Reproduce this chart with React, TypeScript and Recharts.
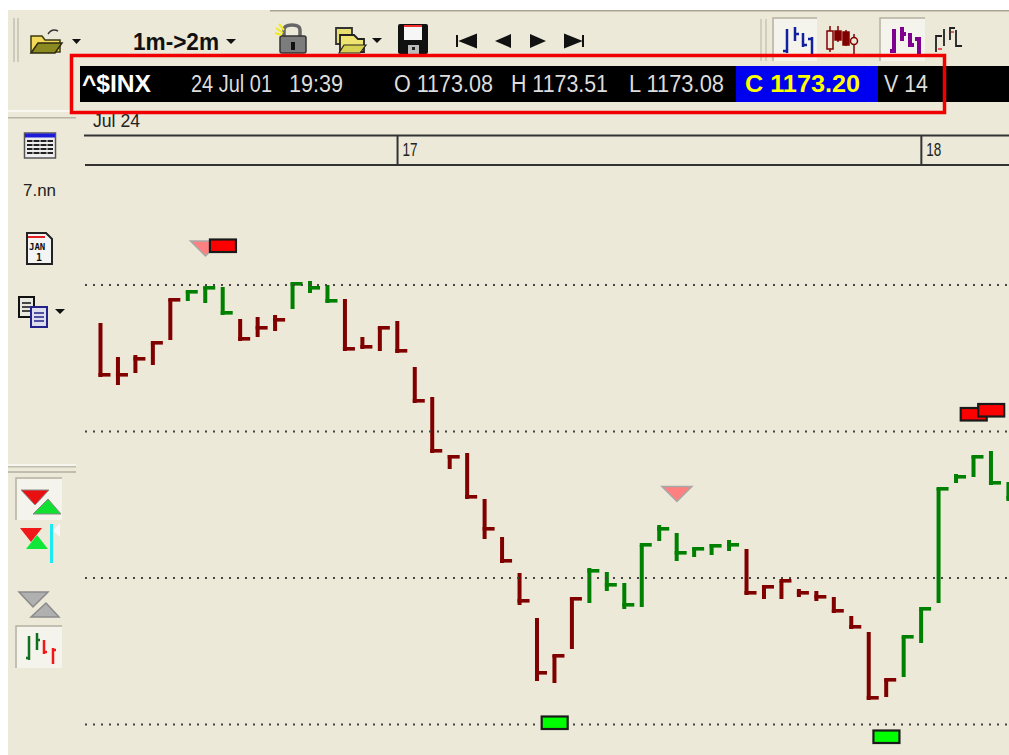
import {
  ComposedChart,
  Bar,
  Scatter,
  XAxis,
  YAxis,
  ReferenceLine,
} from "recharts";

// one entry per 2 minute bar, left to right
const highs = [
  1177.62, 1177.28, 1177.3, 1177.42, 1177.86, 1177.94, 1177.98, 1177.98, 1177.66, 1177.68,
  1177.7, 1178.02, 1178.04, 1178.0, 1177.86, 1177.48, 1177.58, 1177.64, 1177.18, 1176.88,
  1176.3, 1176.32, 1175.86, 1175.48, 1175.12, 1174.67, 1174.3, 1174.87, 1175.17, 1175.13,
  1175.02, 1175.4, 1175.6, 1175.52, 1175.37, 1175.41, 1175.45, 1175.36, 1174.99, 1175.04,
  1174.96, 1174.94, 1174.88, 1174.69, 1174.53, 1174.06, 1174.48, 1174.76, 1175.97, 1176.11,
  1176.29, 1176.34, 1176.03,
];
const lows = [
  1177.08, 1177.0, 1177.12, 1177.2, 1177.45, 1177.84, 1177.82, 1177.7, 1177.44, 1177.48,
  1177.54, 1177.76, 1177.92, 1177.82, 1177.34, 1177.36, 1177.34, 1177.32, 1176.82, 1176.32,
  1176.16, 1175.86, 1175.46, 1175.22, 1174.8, 1174.04, 1174.02, 1174.36, 1174.82, 1174.94,
  1174.76, 1174.78, 1175.44, 1175.24, 1175.28, 1175.3, 1175.34, 1174.9, 1174.86, 1174.86,
  1174.88, 1174.84, 1174.72, 1174.56, 1173.85, 1173.88, 1174.08, 1174.42, 1174.82, 1176.02,
  1176.08, 1176.0, 1175.84,
];
const closes = [
  1177.1, 1177.1, 1177.26, 1177.42, 1177.85, 1177.93, 1177.97, 1177.72, 1177.46, 1177.57,
  1177.65, 1178.01, 1177.97, 1177.84, 1177.36, 1177.38, 1177.57, 1177.34, 1176.84, 1176.34,
  1176.28, 1175.88, 1175.56, 1175.24, 1174.84, 1174.12, 1174.29, 1174.86, 1175.14, 1175.0,
  1174.8, 1175.4, 1175.56, 1175.32, 1175.36, 1175.39, 1175.4, 1174.92, 1174.98, 1175.04,
  1174.92, 1174.88, 1174.74, 1174.58, 1173.87, 1174.05, 1174.48, 1174.76, 1175.96, 1176.08,
  1176.28, 1176.02, 1175.87,
];
const upBars = [5, 6, 7, 11, 12, 13, 28, 29, 30, 31, 32, 33, 34, 35, 36, 46, 47, 48, 49, 50, 51, 52];

const gridPrices = [1178.0, 1176.535, 1175.07, 1173.605];
const dayTicks = [17, 47];
const dayLabels: Record<number, string> = { 17: "17", 47: "18" };

const sellFlags = [
  { bar: 7, price: 1178.395 },
  { bar: 50, price: 1176.71 },
  { bar: 51, price: 1176.75 },
];
const buyFlags = [
  { bar: 26, price: 1173.625 },
  { bar: 45, price: 1173.485 },
];
const sellTriangles = [
  { bar: 6, price: 1178.37 },
  { bar: 33, price: 1175.915 },
];

const chartData = highs.map((high, i) => ({
  bar: i,
  range: [lows[i], high],
  high,
  low: lows[i],
  close: closes[i],
  up: upBars.includes(i),
}));

const BG = "#ECE9D8";
const FONT = '"Liberation Sans", Arial, sans-serif';

function OhlcBar(props: any) {
  const { x, y, width, height, payload } = props;
  const color = payload.up ? "#008000" : "#800000";
  const cx = x + width / 2;
  const perUnit = height / (payload.high - payload.low);
  const closeY = y + (payload.high - payload.close) * perUnit;
  return (
    <g>
      <rect x={cx - 2} y={y} width={4} height={height} fill={color} />
      <rect x={cx - 2} y={closeY - 2} width={12} height={3.6} fill={color} />
    </g>
  );
}

function FlagMark(fill: string) {
  return (props: any) => (
    <rect
      x={props.cx - 13}
      y={props.cy - 6}
      width={26}
      height={12.5}
      fill={fill}
      stroke="#1a1a1a"
      strokeWidth={2.2}
    />
  );
}

function TriangleMark(props: any) {
  const { cx, cy } = props;
  return (
    <path
      d={`M${cx - 15} ${cy - 7}L${cx + 15} ${cy - 7}L${cx} ${cy + 8}Z`}
      fill="#FF8080"
      stroke="#A8A8A8"
      strokeWidth={1.5}
    />
  );
}

function DayTick(props: any) {
  return (
    <text
      x={props.x + 5}
      y={156}
      fontSize={18}
      fontFamily={FONT}
      fill="#222"
      textLength={15}
      lengthAdjust="spacingAndGlyphs"
    >
      {dayLabels[props.payload.value]}
    </text>
  );
}

function MiniBars({ x, y, color, weight }: { x: number; y: number; color: string; weight: number }) {
  return (
    <g transform={`translate(${x} ${y})`} stroke={color} strokeWidth={weight} fill="none">
      <path d="M2 2V26M2 24H-2M10 0V14M10 7H14" />
      <path d="M18 6V20M18 18H22M27 10V30M27 12H23" />
    </g>
  );
}

// toolbars round the plot, these are plain screen furniture and not chart marks
function Chrome() {
  return (
    <svg width={1009} height={755} style={{ position: "absolute", left: 0, top: 0 }}>
      <rect x={8} y={10} width={1001} height={745} fill={BG} />
      <rect x={270} y={10} width={739} height={1.5} fill="#A8A595" />
      <path d="M14 18V62M18 18V62" stroke="#C4C1B0" strokeWidth={1.5} />
      <rect x={8} y={110} width={68} height={2} fill="#F8F7F0" />
      <rect x={8} y={117} width={68} height={1.5} fill="#B8B5A4" />
      <rect x={8} y={464} width={68} height={2} fill="#F6F5EE" />
      <rect x={8} y={466} width={68} height={1.5} fill="#C0BDAC" />
      <rect x={8} y={471} width={68} height={2} fill="#C0BDAC" />

      {/* top toolbar */}
      <path d="M31 36H42L45 40H60V52H31Z" fill="#F3D95A" stroke="#3d3a10" strokeWidth={1.5} />
      <path d="M31 53L38 43H62L55 53Z" fill="#8A8A20" stroke="#2d2a10" strokeWidth={1.5} />
      <path d="M48 34Q52 28 58 31" stroke="#333" strokeWidth={1.5} fill="none" />
      <path d="M72 39H81L76.5 44Z" fill="#111" />
      <text x={133} y={50} fontSize={23} fontWeight={700} fontFamily={FONT} fill="#111" textLength={86} lengthAdjust="spacingAndGlyphs">
        1m-&gt;2m
      </text>
      <path d="M226 39H236L231 44Z" fill="#111" />
      <path d="M284 36V30Q284 25 292 25Q300 25 300 30V36" stroke="#666" strokeWidth={3.5} fill="none" />
      <rect x={280} y={36} width={26} height={17} rx={2} fill="#7C7C7C" stroke="#333" strokeWidth={1.5} />
      <rect x={291} y={42} width={4} height={8} fill="#111" />
      <path d="M276 28L283 33M279 24L284 30M275 33L281 35" stroke="#F0E820" strokeWidth={2} />
      <path d="M336 28H352V44H336Z" fill="#E8DE70" stroke="#333" strokeWidth={1.8} />
      <path d="M340 35H354L358 39H364V52H340Z" fill="#F0E470" stroke="#222" strokeWidth={1.8} />
      <path d="M339 53L344 45H366L360 53Z" fill="#D8D050" stroke="#222" strokeWidth={1.2} />
      <path d="M372 38H382L377 43Z" fill="#111" />
      <rect x={398} y={24} width={30} height={30} rx={2} fill="#111" />
      <rect x={404} y={25} width={18} height={2} fill="#F03030" />
      <rect x={404} y={27} width={18} height={13} fill="#F6F6F6" />
      <rect x={408} y={45} width={11} height={9} fill="#BBB" />
      <rect x={412} y={47} width={3} height={3} fill="#222" />
      <path d="M457 35V47M476 35V47L461 41Z" stroke="#111" strokeWidth={2} fill="#111" />
      <path d="M511 34V48L495 41Z" fill="#111" />
      <path d="M530 34V48L546 41Z" fill="#111" />
      <path d="M565 35V47L580 41Z M583 35V47" stroke="#111" strokeWidth={2} fill="#111" />

      <path d="M761 19V61M766 19V61" stroke="#C8C5B4" strokeWidth={1.5} />
      <rect x={773} y={18} width={44} height={43} fill="#F4F3EC" />
      <path d="M773 61V18H817" stroke="#B4B1A0" strokeWidth={1.5} fill="none" />
      <MiniBars x={785} y={27} color="#1020A0" weight={2.5} />
      <g stroke="#800000" strokeWidth={1.5}>
        <path d="M830 26V52M838 26V42M846 30V46M854 34V54" />
        <rect x={827} y={31} width={6} height={18} fill={BG} />
        <rect x={835} y={31} width={6} height={9} fill="#800000" />
        <rect x={843} y={32} width={6} height={13} fill="#800000" />
        <circle cx={854} cy={41} r={3.5} fill={BG} />
      </g>
      <rect x={880} y={18} width={45} height={43} fill="#F4F3EC" />
      <path d="M880 61V18H925" stroke="#B4B1A0" strokeWidth={1.5} fill="none" />
      <MiniBars x={892} y={27} color="#800090" weight={4} />
      <path d="M936 52V36H942M944 46V29M950 40V28H955M956 30V46H962" stroke="#222" strokeWidth={1.8} fill="none" />
      <path d="M938 49H942M951 32H954" stroke="#E03030" strokeWidth={1.5} />

      {/* readout strip */}
      <rect x={80} y={66} width={929} height={36} fill="#000" />
      <rect x={736} y={66} width={142} height={36} fill="#0000F0" />
      <text x={82} y={92} fontSize={23} fontWeight={700} fontFamily={FONT} fill="#fff" textLength={69} lengthAdjust="spacingAndGlyphs">
        ^$INX
      </text>
      <g fontSize={23} fontFamily={FONT} fill="#DDD">
        <text x={191} y={92} textLength={81} lengthAdjust="spacingAndGlyphs">24 Jul 01</text>
        <text x={289} y={92} textLength={54} lengthAdjust="spacingAndGlyphs">19:39</text>
        <text x={394} y={92} textLength={99} lengthAdjust="spacingAndGlyphs">O 1173.08</text>
        <text x={511} y={92} textLength={97} lengthAdjust="spacingAndGlyphs">H 1173.51</text>
        <text x={629} y={92} textLength={95} lengthAdjust="spacingAndGlyphs">L 1173.08</text>
        <text x={884} y={92} textLength={44} lengthAdjust="spacingAndGlyphs">V 14</text>
      </g>
      <text x={745} y={92} fontSize={23} fontWeight={700} fontFamily={FONT} fill="#FFFF00" textLength={115} lengthAdjust="spacingAndGlyphs">
        C 1173.20
      </text>

      <text x={93} y={127} fontSize={18} fontFamily={FONT} fill="#222" textLength={47} lengthAdjust="spacingAndGlyphs">Jul 24</text>
      <rect x={71.5} y={55.5} width={873} height={57} fill="none" stroke="#F00000" strokeWidth={3.5} />
      <rect x={84} y={134.5} width={925} height={2} fill="#333" />

      {/* left toolbar */}
      <rect x={24.5} y={133} width={31} height={25} fill="#EEE" stroke="#555" strokeWidth={1.5} />
      <rect x={25} y={133.5} width={30} height={4} fill="#1C1CD8" />
      <path d="M27 141H53M27 145H53M27 149H53M27 153H53" stroke="#222" strokeWidth={2} />
      <path d="M33 139V156M40 139V156M47 139V156" stroke="#EEE" strokeWidth={1} />
      <text x={23} y={196} fontSize={17} fontFamily={FONT} fill="#222" textLength={33} lengthAdjust="spacingAndGlyphs">7.nn</text>
      <path d="M27 233H46L52 239V264H27Z" fill="#F4F4F4" stroke="#222" strokeWidth={2} />
      <rect x={28} y={236} width={17} height={2} fill="#E02020" />
      <text x={29} y={250} fontSize={9} fontWeight={700} fontFamily='"DejaVu Sans Mono", monospace' fill="#111">JAN</text>
      <text x={36} y={261} fontSize={10} fontWeight={700} fontFamily='"DejaVu Sans Mono", monospace' fill="#111">1</text>
      <rect x={19} y={297} width={15} height={20} fill="#E8E8E0" stroke="#111" strokeWidth={2} />
      <path d="M22 303H31M22 307H31M22 311H31" stroke="#111" strokeWidth={1.5} />
      <rect x={31} y={307} width={16} height={20} fill="#DDE" stroke="#22228A" strokeWidth={2} />
      <path d="M34 313H44M34 317H44M34 321H44" stroke="#22228A" strokeWidth={1.5} />
      <path d="M55 309H65L60 314Z" fill="#111" />

      <rect x={16} y={478} width={46} height={42} fill="#F4F3EC" />
      <path d="M16 520V478H62" stroke="#B4B1A0" strokeWidth={1.5} fill="none" />
      <path d="M21 490H49L35 505Z" fill="#E81010" stroke="#888" strokeWidth={1} />
      <path d="M33 514L48 499L61 514Z" fill="#10E030" stroke="#888" strokeWidth={1} />
      <path d="M20 528H42L31 542Z" fill="#F01818" />
      <path d="M26 549L37 535L48 549Z" fill="#10E838" />
      <rect x={50} y={524} width={3} height={39} fill="#20E8F0" />
      <path d="M53 531L60 523V537Z" fill="#F8F8F8" />
      <path d="M19 592H48L33 607Z" fill="#B0B0B0" stroke="#8A8A8A" strokeWidth={1.5} />
      <path d="M31 617L46 603L59 617Z" fill="#B0B0B0" stroke="#8A8A8A" strokeWidth={1.5} />
      <rect x={16} y={626} width={46} height={42} fill="#F4F3EC" />
      <path d="M16 668V626H62" stroke="#B4B1A0" strokeWidth={1.5} fill="none" />
      <path d="M29 636V660M29 658H26M37 633V650M37 640H40" stroke="#107020" strokeWidth={2.5} fill="none" />
      <path d="M44 640V654M44 652H47M53 648V664M53 650H56" stroke="#F01818" strokeWidth={2.5} fill="none" />
    </svg>
  );
}

export default function App() {
  return (
    <div
      style={{
        position: "fixed",
        left: 0,
        top: 0,
        width: 1009,
        height: 755,
        overflow: "hidden",
        background: "#fff",
      }}
    >
      <Chrome />
      <div style={{ position: "absolute", left: 0, top: 0 }}>
        <ComposedChart
          width={1009}
          height={755}
          data={chartData}
          margin={{ top: 135, right: 0, bottom: 0, left: 85 }}
        >
          <XAxis
            dataKey="bar"
            type="number"
            orientation="top"
            height={30}
            domain={[-0.9, 52.02]}
            allowDataOverflow
            ticks={dayTicks}
            interval={0}
            tickSize={30}
            tick={<DayTick />}
            tickLine={{ stroke: "#333", strokeWidth: 2 }}
            axisLine={{ stroke: "#333", strokeWidth: 2 }}
          />
          <YAxis hide domain={[1173.3, 1179.2]} allowDataOverflow />
          {gridPrices.map((p) => (
            <ReferenceLine key={p} y={p} stroke="#444" strokeWidth={2} strokeDasharray="2 6" />
          ))}
          <Bar dataKey="range" barSize={3} shape={<OhlcBar />} isAnimationActive={false} />
          <Scatter data={sellTriangles} dataKey="price" shape={<TriangleMark />} isAnimationActive={false} />
          <Scatter data={sellFlags} dataKey="price" shape={FlagMark("#FF0000")} isAnimationActive={false} />
          <Scatter data={buyFlags} dataKey="price" shape={FlagMark("#00FF00")} isAnimationActive={false} />
        </ComposedChart>
      </div>
    </div>
  );
}
